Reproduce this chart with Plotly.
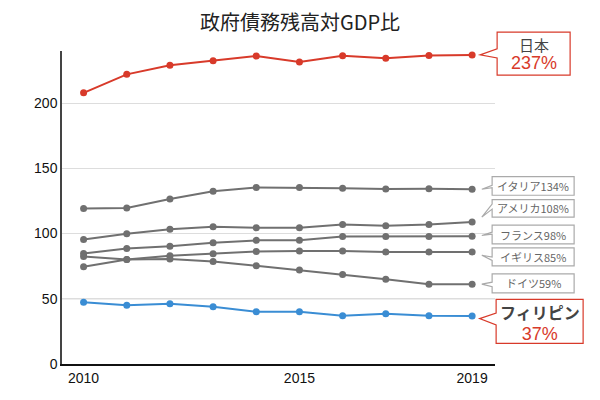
import plotly.graph_objects as go

years = list(range(2010, 2020))

countries = ["日本", "イタリア", "アメリカ", "フランス", "イギリス", "ドイツ", "フィリピン"]
japan = [207.9, 222.1, 229.0, 232.5, 236.1, 231.6, 236.4, 234.5, 236.6, 237.0]
italy = [119.2, 119.7, 126.5, 132.5, 135.4, 135.3, 134.8, 134.1, 134.4, 134.0]
usa = [95.5, 99.9, 103.4, 105.2, 104.5, 104.5, 107.0, 106.0, 107.0, 108.8]
france = [84.8, 88.6, 90.2, 93.0, 94.8, 94.8, 97.8, 97.8, 97.8, 98.0]
uk = [74.6, 80.2, 83.0, 84.5, 86.3, 86.6, 86.6, 85.9, 85.9, 85.9]
germany = [82.5, 80.2, 80.5, 78.5, 75.4, 72.0, 68.7, 65.0, 61.2, 61.2]
philippines = [47.3, 45.0, 46.2, 43.9, 40.1, 40.1, 37.0, 38.5, 37.0, 36.8]
label_values = [237, 134, 108, 98, 85, 59, 37]

series = [japan, italy, usa, france, uk, germany, philippines]

RED = "#d83a2a"
BLUE = "#3a8dd4"
GRAY = "#707070"
colors = [RED, GRAY, GRAY, GRAY, GRAY, GRAY, BLUE]

JP = "Noto Sans CJK JP"
NUM = "Liberation Sans, Noto Sans CJK JP"

X_RANGE = [2009.5, 2019.53]
Y_RANGE = [0, 240]

fig = go.Figure()
# grays first so the colored lines sit on top
for i in [1, 2, 3, 4, 5, 0, 6]:
    fig.add_trace(go.Scatter(
        x=years, y=series[i], mode="lines+markers", name=countries[i],
        line=dict(color=colors[i], width=2), marker=dict(color=colors[i], size=7),
        showlegend=False, hoverinfo="skip"))

# callout boxes: pixel geometry relative to the 2019 point
# (left, right, top, bottom, tip_x, tip_y, base_top, base_bottom)
callouts = [
    (25, 98, 22.7, -20.3, 8, 0, 6, -3),
    (20, 102, 12.7, -6, 9.7, 0, 4, 1.5),
    (20, 102, 22.4, 5, 9.7, 5, 18, 13),
    (20, 102, 11, -7.7, 9.7, 0.7, 4, 2),
    (20, 102, 4, -14, 9.7, -3.3, -5, -8.5),
    (20, 102, 10.3, -8.7, 9.7, 0, 2, -2.5),
    (24, 111, 16.7, -27.3, 7.5, -2.6, 3, -9),
]
# big boxes: (text centre y, base size -> line spacing, name size)
big_text = {0: (1.0, 14, 15), 6: (-5.5, 16, 16)}

# paper fractions so the callouts are not clipped to the plot area
x_last = (years[-1] - X_RANGE[0]) / (X_RANGE[1] - X_RANGE[0])

for i, (l, r, t, b, tx, ty, b1, b2) in enumerate(callouts):
    v = series[i][-1]
    big = i in big_text
    path = (f"M{tx},{ty} L{l},{b1} L{l},{t} L{r},{t} L{r},{b} "
            f"L{l},{b} L{l},{b2} Z")
    fig.add_shape(type="path", path=path, xref="paper", yref="paper",
                  xsizemode="pixel", ysizemode="pixel",
                  xanchor=x_last, yanchor=(v - Y_RANGE[0]) / (Y_RANGE[1] - Y_RANGE[0]),
                  line=dict(color=RED if big else "#aaaaaa", width=1.2),
                  fillcolor="white", layer="above")
    cx = (l + r) / 2
    if big:
        cy, base, name_size = big_text[i]
        name = countries[i] if i == 0 else f"<b>{countries[i]}</b>"
        text = (f"<span style='font-size:{name_size}px;color:#444444'>{name}</span><br>"
                f"<span style='font-size:18px;color:{RED};font-family:Liberation Sans'>"
                f"{label_values[i]}%</span>")
        fig.add_annotation(x=years[-1], y=v, xref="x", yref="y", text=text,
                           showarrow=False, xanchor="center", yanchor="middle",
                           xshift=cx, yshift=cy, align="center",
                           font=dict(family=JP, size=base, color="#444444"))
    else:
        fig.add_annotation(x=years[-1], y=v, xref="x", yref="y",
                           text=f"{countries[i]}{label_values[i]}%",
                           showarrow=False, xanchor="center", yanchor="middle",
                           xshift=cx, yshift=(t + b) / 2,
                           font=dict(family=JP, size=11, color="#666666"))

# the page body adds an 8px margin, so the figure is 8px smaller
fig.update_layout(
    width=592, height=392,
    title=dict(text="政府債務残高対GDP比", xref="container", x=292 / 592, xanchor="center",
               y=1 - 15 / 392, yanchor="middle",
               font=dict(family=JP, size=20, color="#222222")),
    plot_bgcolor="white", paper_bgcolor="white",
    margin=dict(l=54, r=105, t=43, b=36),
    font=dict(family=NUM, size=14, color="#111111"),
)
fig.update_xaxes(range=X_RANGE, tickvals=[2010, 2015, 2019], showgrid=False,
                 showline=True, linecolor="#111111", linewidth=1.5, ticks="", zeroline=False,
                 tickfont=dict(family=NUM, size=14, color="#111111"))
fig.update_yaxes(range=Y_RANGE, tickvals=[0, 50, 100, 150, 200], showgrid=True,
                 gridcolor="#dddddd", gridwidth=1, showline=True, linecolor="#444444",
                 linewidth=1.5, zeroline=False, ticks="", ticklen=0,
                 tickfont=dict(family=NUM, size=14, color="#111111"))
# the 50 line is drawn a little darker in the original
fig.add_hline(y=50, line=dict(color="#c4c4c4", width=1), layer="below")

fig.write_html("out.html")
